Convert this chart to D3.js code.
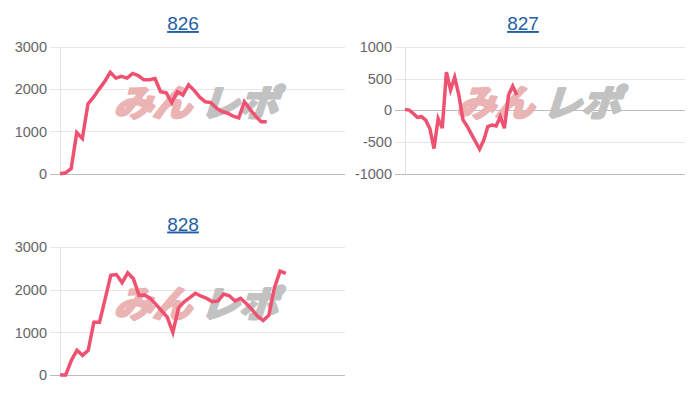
<!DOCTYPE html>
<html>
<head>
<meta charset="utf-8">
<script src="https://cdn.jsdelivr.net/npm/d3@7"></script>
<style>
  html, body { margin: 0; padding: 0; background: #fff; }
  svg { display: block; }
</style>
</head>
<body>
<svg id="chart" width="700" height="400"></svg>
<script>
// ---- data ----
const titles = ["826", "827", "828"];
const values826 = [0,20,120,970,830,1650,1810,2000,2180,2395,2260,2300,2260,2370,2320,2220,2220,2250,1940,1910,1680,1940,1860,2100,1970,1810,1700,1680,1550,1470,1430,1360,1320,1700,1520,1360,1230,1230];
const values827 = [15,5,-50,-110,-100,-155,-285,-600,-130,-280,600,320,520,240,-150,-250,-370,-490,-610,-470,-255,-230,-245,-100,-280,240,380,240];
const values828 = [0,0,340,580,460,580,1240,1240,1790,2340,2360,2170,2400,2260,1870,1880,1800,1660,1510,1360,1000,1580,1720,1820,1920,1850,1800,1720,1740,1900,1860,1740,1800,1680,1540,1380,1280,1400,2050,2440,2390];
const yTicks826 = [0, 1000, 2000, 3000];
const yTicks827 = [-1000, -500, 0, 500, 1000];
const yTicks828 = [0, 1000, 2000, 3000];
const xMax826 = 51, xMax827 = 67.6, xMax828 = 50.5;
const logoPink = "みん", logoGray = "レポ";

// ---- layout (positions / styles) ----
const panels = [
  { title: titles[0], values: values826, ticks: yTicks826, xMax: xMax826, left: 60, right: 345, top: 46.8, bottom: 173.7, tx: 183, ty: 30 },
  { title: titles[1], values: values827, ticks: yTicks827, xMax: xMax827, left: 405, right: 685, top: 46.7, bottom: 174, tx: 523, ty: 30 },
  { title: titles[2], values: values828, ticks: yTicks828, xMax: xMax828, left: 60, right: 345, top: 247.3, bottom: 375, tx: 183, ty: 230.5 }
];
const LINE = "#ef5170";
const FONT = "'Liberation Sans', Arial, Helvetica, sans-serif";

const svg = d3.select("#chart");

panels.forEach(p => {
  const g = svg.append("g");
  const x = d3.scaleLinear().domain([0, p.xMax]).range([p.left, p.right]);
  const y = d3.scaleLinear().domain(d3.extent(p.ticks)).range([p.bottom, p.top]);

  // title
  g.append("text")
    .attr("x", p.tx).attr("y", p.ty)
    .attr("text-anchor", "middle")
    .attr("font-family", FONT)
    .attr("font-size", 19)
    .attr("fill", "#1f5fa5")
    .style("text-decoration", "underline")
    .text(p.title);

  // y axis with gridlines
  const axis = d3.axisLeft(y)
    .tickValues(p.ticks)
    .tickSize(-(p.right - p.left) - 10)
    .tickPadding(3)
    .tickFormat(d => String(d));
  const ag = g.append("g")
    .attr("transform", `translate(${p.left - 10},0)`)
    .call(axis);
  ag.select(".domain").remove();
  ag.selectAll(".tick line")
    .attr("stroke", d => (d === 0 || d === p.ticks[0]) ? "#bdbdbd" : "#e6e6e6")
    .attr("stroke-width", 1)
    .attr("shape-rendering", "crispEdges");
  ag.selectAll(".tick text")
    .attr("font-family", FONT)
    .attr("font-size", 14.5)
    .attr("fill", "#666");

  // left vertical axis line
  g.append("line")
    .attr("x1", p.left).attr("x2", p.left)
    .attr("y1", p.top).attr("y2", p.bottom)
    .attr("stroke", "#e3e3e3")
    .attr("shape-rendering", "crispEdges");

  // watermark logo
  const cx = (p.left + p.right) / 2 - 7;
  const cy = (p.top + p.bottom) / 2 - 7;
  const logo = g.append("g")
    .attr("transform", `translate(${cx},${cy + 13}) skewX(-18) scale(1.08,1)`);
  logo.append("text")
    .attr("x", -4).attr("y", 0)
    .attr("text-anchor", "end")
    .attr("font-family", "'Noto Sans CJK JP', sans-serif")
    .attr("font-weight", 700)
    .attr("font-size", 36)
    .attr("fill", "#ebb4b4")
    .attr("stroke", "#ebb4b4")
    .attr("stroke-width", 3)
    .attr("stroke-linejoin", "round")
    .text(logoPink);
  logo.append("text")
    .attr("x", 4).attr("y", 0)
    .attr("text-anchor", "start")
    .attr("font-family", "'Noto Sans CJK JP', sans-serif")
    .attr("font-weight", 700)
    .attr("font-size", 36)
    .attr("fill", "#c2c2c2")
    .attr("stroke", "#c2c2c2")
    .attr("stroke-width", 3)
    .attr("stroke-linejoin", "round")
    .text(logoGray);

  // line
  const line = d3.line()
    .x((d, i) => x(i))
    .y(d => y(d));
  g.append("path")
    .datum(p.values)
    .attr("d", line)
    .attr("fill", "none")
    .attr("stroke", LINE)
    .attr("stroke-width", 3.5)
    .attr("stroke-linejoin", "miter");
});
</script>
</body>
</html>
